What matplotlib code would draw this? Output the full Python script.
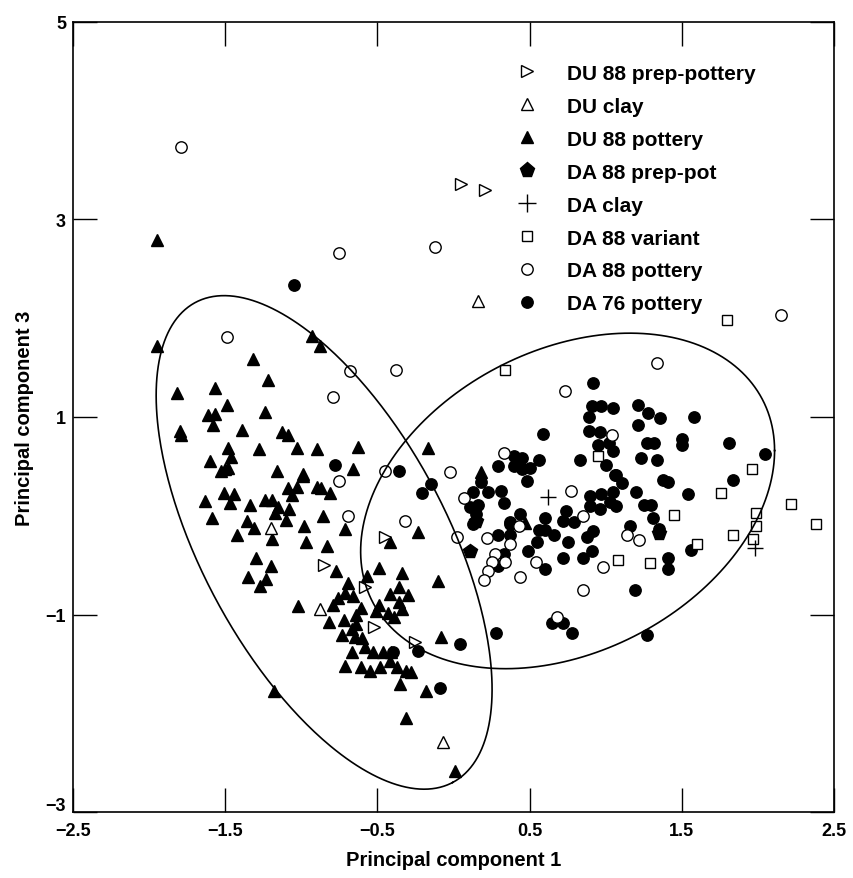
import numpy as np
import matplotlib
matplotlib.use("Agg")
from matplotlib import pyplot as plt
from matplotlib.lines import Line2D
from matplotlib.transforms import ScaledTranslation

# ---- data (PC1, PC3) ----
du88_prep_x = [0.05, 0.21, -0.45, -0.85, -0.58, -0.52, -0.25]
du88_prep_y = [3.36, 3.30, -0.22, -0.50, -0.72, -1.13, -1.28]

du_clay_x = [0.16, -1.20, -0.88, -0.07]
du_clay_y = [2.17, -0.12, -0.94, -2.29]

du88_pot_x = [-1.95, -1.95, -0.93, -0.88, -1.32, -1.22, -1.82, -1.57, -1.49, -1.61,
              -1.57, -1.58, -1.24, -1.39, -1.80, -1.79, -1.13, -1.09, -1.48, -1.28,
              -1.03, -1.46, -1.60, -1.53, -1.50, -1.48, -1.16, -0.99, -1.63, -1.51,
              -1.44, -1.47, -1.34, -1.24, -1.19, -1.09, -1.03, -1.06, -1.15, -1.08,
              -1.17, -1.10, -1.59, -1.36, -1.31, -1.42, -1.19, -0.98, -0.97, -1.30,
              -1.20, -1.35, -1.23, -1.27, -1.02, -1.18, -0.90, -0.63, -0.66, -0.99,
              -0.90, -0.87, -0.81, -0.17, -0.86, -0.71, -0.23, -0.42, -0.83, -0.77,
              -0.49, -0.34, -0.10, -0.57, -0.69, -0.71, -0.66, -0.76, -0.79, -0.61,
              -0.64, -0.49, -0.42, -0.36, -0.30, -0.36, -0.34, -0.43, -0.51, -0.82,
              -0.72, -0.64, -0.67, -0.73, -0.65, -0.60, -0.67, -0.58, -0.53, -0.46,
              -0.41, -0.71, -0.61, -0.55, -0.48, -0.42, -0.37, -0.31, -0.28, -0.35,
              -0.18, -0.31, 0.01, -0.08, -0.39, 0.18, 0.47]
du88_pot_y = [2.79, 1.72, 1.82, 1.72, 1.59, 1.37, 1.24, 1.29, 1.12, 1.02,
              1.03, 0.92, 1.05, 0.87, 0.86, 0.82, 0.85, 0.82, 0.69, 0.68,
              0.69, 0.59, 0.55, 0.45, 0.47, 0.48, 0.45, 0.42, 0.15, 0.23,
              0.22, 0.13, 0.11, 0.16, 0.16, 0.28, 0.29, 0.21, 0.09, 0.07,
              0.03, -0.04, -0.02, -0.05, -0.12, -0.19, -0.24, -0.10, -0.27, -0.43,
              -0.51, -0.62, -0.64, -0.71, -0.91, -1.77, 0.68, 0.70, 0.47, 0.40,
              0.29, 0.28, 0.23, 0.69, 0.00, -0.13, -0.16, -0.27, -0.31, -0.56,
              -0.53, -0.58, -0.66, -0.61, -0.68, -0.78, -0.81, -0.83, -0.90, -0.93,
              -1.00, -0.90, -0.79, -0.72, -0.80, -0.87, -0.94, -0.98, -0.96, -1.08,
              -1.06, -1.10, -1.15, -1.21, -1.23, -1.24, -1.38, -1.33, -1.38, -1.38,
              -1.38, -1.52, -1.53, -1.57, -1.53, -1.47, -1.53, -1.57, -1.58, -1.70,
              -1.77, -2.05, -2.58, -1.23, -1.03, 0.44, -0.07]

da88_prep_x = [0.11, 0.15, 1.35]
da88_prep_y = [-0.36, -0.05, -0.17]

da_clay_x = [0.62, 1.98]
da_clay_y = [0.19, -0.33]

da88_var_x = [0.34, 1.80, 0.95, 1.96, 1.76, 2.22, 1.45, 1.99, 2.38, 1.84,
              1.99, 1.97, 1.60, 1.08, 1.29]
da88_var_y = [1.48, 1.98, 0.60, 0.47, 0.23, 0.12, 0.01, 0.03, -0.08, -0.19,
              -0.10, -0.24, -0.29, -0.45, -0.48]

da88_pot_x = [-1.79, -0.75, -0.12, 2.15, -1.49, -0.68, -0.38, -0.79, -0.45, -0.75,
              -0.02, 0.07, -0.69, -0.32, 0.73, 1.04, 1.34, 0.33, 0.77, 0.85,
              0.02, 0.22, 0.37, 0.27, 0.25, 0.23, 0.20, 0.34, 0.44, 0.54,
              0.98, 0.85, 0.43, 0.68, 1.14, 1.22]
da88_pot_y = [3.73, 2.66, 2.72, 2.03, 1.81, 1.47, 1.48, 1.20, 0.45, 0.35,
              0.44, 0.18, 0.00, -0.05, 1.26, 0.82, 1.55, 0.64, 0.25, 0.00,
              -0.22, -0.23, -0.29, -0.39, -0.47, -0.56, -0.65, -0.47, -0.62, -0.47,
              -0.52, -0.75, -0.10, -1.03, -0.20, -0.25]

da76_pot_x = [-1.05, -0.78, -0.36, -0.15, -0.21, -0.23, 0.04, 0.28, -0.09, -0.40,
              0.92, 0.91, 0.97, 0.89, 1.05, 0.89, 0.96, 1.02, 0.95, 1.05,
              1.00, 0.83, 0.59, 0.40, 0.45, 0.40, 0.45, 0.50, 0.48, 0.56,
              0.29, 0.18, 0.13, 0.23, 0.31, 0.33, 0.11, 0.15, 0.16, 0.44,
              0.37, 0.60, 0.74, 0.90, 0.97, 1.05, 1.07, 0.90, 0.96, 1.03,
              0.72, 0.79, 1.21, 1.28, 1.36, 1.58, 1.21, 1.27, 1.32, 1.50,
              1.50, 1.81, 2.05, 1.23, 1.34, 1.06, 1.11, 1.38, 1.41, 1.20,
              1.54, 1.84, 1.07, 1.25, 1.30, 1.31, 1.16, 1.35, 1.56, 1.41,
              1.41, 1.19, 1.27, 0.29, 0.37, 0.33, 0.29, 0.49, 0.55, 0.60,
              0.72, 0.85, 0.91, 0.75, 0.88, 0.66, 0.60, 0.56, 0.92, 0.13,
              0.37, 0.65, 0.72, 0.78]
da76_pot_y = [2.34, 0.51, 0.45, 0.32, 0.23, -1.37, -1.30, -1.19, -1.74, -1.38,
              1.34, 1.11, 1.11, 1.00, 1.09, 0.86, 0.85, 0.74, 0.72, 0.66,
              0.51, 0.56, 0.83, 0.60, 0.58, 0.50, 0.47, 0.48, 0.35, 0.56,
              0.50, 0.34, 0.24, 0.24, 0.25, 0.13, 0.09, 0.02, 0.11, 0.02,
              -0.06, -0.02, 0.05, 0.20, 0.22, 0.24, 0.41, 0.10, 0.07, 0.14,
              -0.05, -0.06, 1.12, 1.04, 0.99, 1.00, 0.92, 0.74, 0.74, 0.78,
              0.72, 0.74, 0.63, 0.58, 0.56, 0.41, 0.33, 0.36, 0.34, 0.24,
              0.22, 0.36, 0.10, 0.11, 0.11, -0.02, -0.10, -0.13, -0.35, -0.43,
              -0.54, -0.75, -1.21, -0.20, -0.20, -0.39, -0.51, -0.36, -0.27, -0.54,
              -0.43, -0.43, -0.36, -0.27, -0.22, -0.19, -0.14, -0.14, -0.15, -0.08,
              -0.08, -1.09, -1.09, -1.19]

# ellipses: centre plus two conjugate half-axis vectors (data units)
ell_left = dict(c=(-0.85, -0.27), u=(0.845, -2.43), v=(0.71, 0.58))
ell_right = dict(c=(0.75, 0.15), u=(1.36, 0.51), v=(0.0, 1.62))

plt.rcParams['font.family'] = ['Liberation Sans', 'DejaVu Sans']
plt.rcParams['font.weight'] = 'bold'

fig = plt.figure(figsize=(8.54, 8.79), dpi=100)
ax = fig.add_axes([0.0855, 0.075, 0.891, 0.899])

ms_c = 8.2   # circles
ms_t = 9     # triangles
ms_s = 7.8   # squares
ax.plot(du88_pot_x, du88_pot_y, '^', color='black', ms=ms_t, ls='none')
ax.plot(da76_pot_x, da76_pot_y, 'o', color='black', ms=ms_c, ls='none')
ax.plot(da88_prep_x, da88_prep_y, 'p', color='black', ms=10, ls='none')
ax.plot(da88_pot_x, da88_pot_y, 'o', mfc='white', mec='black', mew=1, ms=ms_c, ls='none')
ax.plot(da88_var_x, da88_var_y, 's', mfc='white', mec='black', mew=1, ms=ms_s, ls='none')
ax.plot(du_clay_x, du_clay_y, '^', mfc='white', mec='black', mew=1, ms=ms_t, ls='none')
ax.plot(du88_prep_x, du88_prep_y, '>', mfc='white', mec='black', mew=1, ms=ms_t, ls='none')
ax.plot(da_clay_x, da_clay_y, '+', color='black', mew=1, ms=12, ls='none')

t = np.linspace(0, 2 * np.pi, 400)
for e in (ell_left, ell_right):
    ex = e['c'][0] + e['u'][0] * np.cos(t) + e['v'][0] * np.sin(t)
    ey = e['c'][1] + e['u'][1] * np.cos(t) + e['v'][1] * np.sin(t)
    ax.plot(ex, ey, color='black', lw=1.2)

ax.set_xlim(-2.5, 2.5)
ax.set_ylim(-3, 5)
ax.set_xticks([-2.5, -1.5, -0.5, 0.5, 1.5, 2.5])
ax.set_xticklabels(['\u22122.5', '\u22121.5', '\u22120.5', '0.5', '1.5', '2.5'])
ax.set_yticks([-3, -1, 1, 3, 5])
ax.set_yticklabels(['\u22123', '\u22121', '1', '3', '5'])
ax.tick_params(direction='in', length=17, width=1, top=True, right=True,
               labelsize=13, pad=5)
ax.tick_params(axis='x', pad=7)
for s in ax.spines.values():
    s.set_linewidth(1.2)

# lift the bottom y label a little so it clears the -2.5 label
lab = ax.get_yticklabels()[0]
lab.set_transform(lab.get_transform() + ScaledTranslation(0, 6 / 72, fig.dpi_scale_trans))

ax.set_xlabel('Principal component 1', fontsize=14.5, fontweight='bold', labelpad=8)
ax.set_ylabel('Principal component 3', fontsize=14.5, fontweight='bold', labelpad=8)

handles = [
    Line2D([], [], marker='>', ls='none', mfc='white', mec='black', ms=ms_t),
    Line2D([], [], marker='^', ls='none', mfc='white', mec='black', ms=ms_t),
    Line2D([], [], marker='^', ls='none', color='black', ms=ms_t),
    Line2D([], [], marker='p', ls='none', color='black', ms=11),
    Line2D([], [], marker='+', ls='none', color='black', ms=13),
    Line2D([], [], marker='s', ls='none', mfc='white', mec='black', ms=ms_s),
    Line2D([], [], marker='o', ls='none', mfc='white', mec='black', ms=ms_c),
    Line2D([], [], marker='o', ls='none', color='black', ms=ms_c),
]
labels = ['DU 88 prep-pottery', 'DU clay', 'DU 88 pottery', 'DA 88 prep-pot',
          'DA clay', 'DA 88 variant', 'DA 88 pottery', 'DA 76 pottery']
ax.legend(handles, labels, loc='upper left', bbox_to_anchor=(0.583, 0.947),
          frameon=False, fontsize=15, labelspacing=0.67, handlelength=1.0,
          handletextpad=1.4, borderpad=0, borderaxespad=0)

fig.savefig('out.png', dpi=100)
